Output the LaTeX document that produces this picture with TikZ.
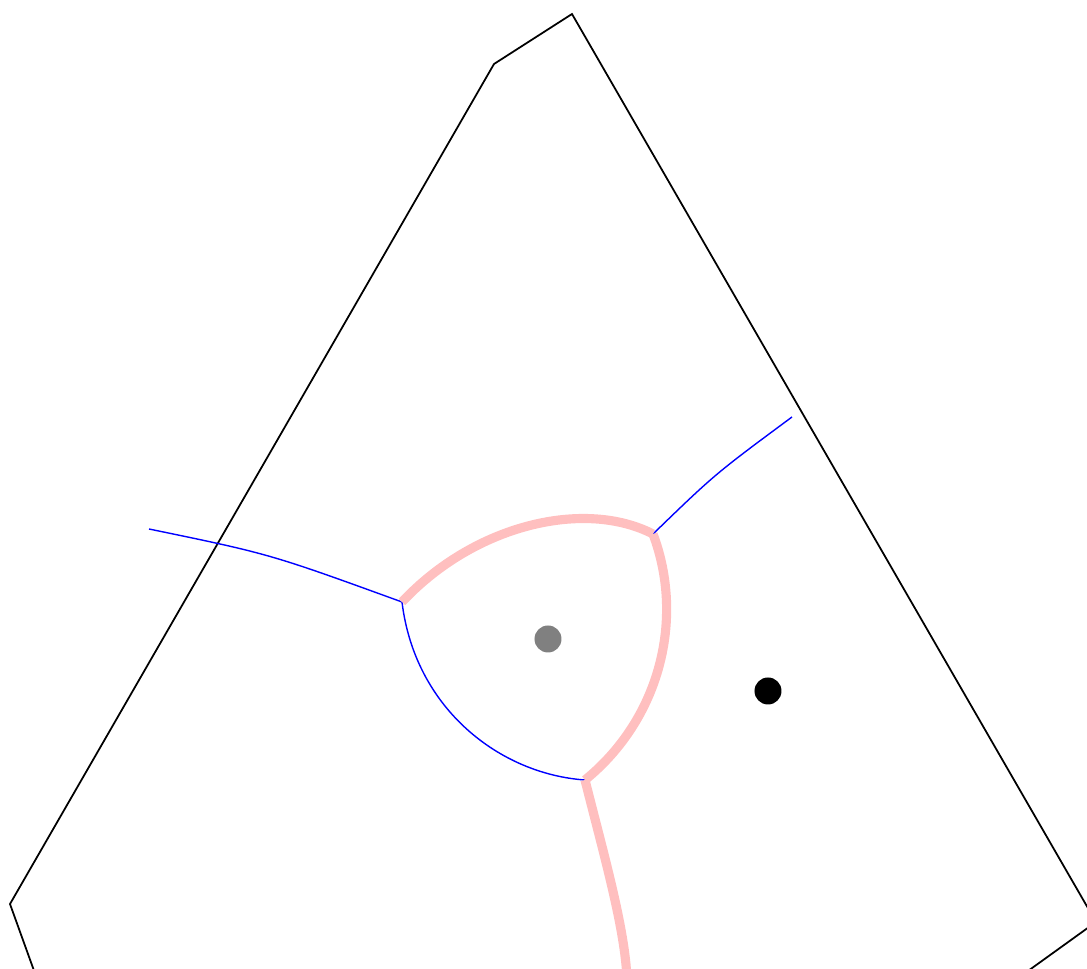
\documentclass[tikz,border=0pt]{standalone}
\usepackage{xcolor}
\usepackage{tikz}
\usetikzlibrary{calc}

\begin{document}
\begin{tikzpicture}[
    cell/.style={draw=black, line width=0.5pt, line join=miter},
    bisec/.style={draw=blue, line width=0.4pt},
    front/.style={draw=pink, line width=2.6pt, line join=miter},
    site/.style={circle, inner sep=0pt, minimum size=0.27cm},
]
\useasboundingbox (0,0) rectangle (10.87,9.69);
\clip (0,0) rectangle (10.87,9.69);

% outer cell
\coordinate (p1) at (0.46,-0.35);
\coordinate (p2) at (0.10,0.65);
\coordinate (p3) at (4.94,9.05);
\coordinate (p4) at (5.72,9.55);
\coordinate (p5) at (10.96,0.47);
\coordinate (p6) at (9.96,-0.25);
\draw[cell] (p1) -- (p2) -- (p3) -- (p4) -- (p5) -- (p6);

% junctions
\coordinate (jl) at (4.02,3.67);
\coordinate (jr) at (6.53,4.35);
\coordinate (jb) at (5.85,1.89);
\coordinate (el) at (1.49,4.40);
\coordinate (er) at (7.92,5.52);
\coordinate (eb) at (6.27,-0.10);

% blue bisectors
\draw[bisec] (el) .. controls (2.7,4.15) .. (jl);
\draw[bisec] (jr) .. controls (7.15,4.95) .. (er);
\draw[bisec] (jl) .. controls (4.15,2.6) and (5.0,1.95) .. (jb);

% pink front
\draw[front] (jl) .. controls (4.75,4.45) and (5.85,4.7) .. (jr);
\draw[front] (jr) .. controls (6.85,3.5) and (6.6,2.5) .. (jb);
\draw[front] (jb) .. controls (6.05,1.1) and (6.25,0.4) .. (eb);

% sites
\node[site, fill=gray] (s1) at (5.48,3.30) {};
\node[site, fill=black] (s2) at (7.68,2.78) {};
\end{tikzpicture}
\end{document}
